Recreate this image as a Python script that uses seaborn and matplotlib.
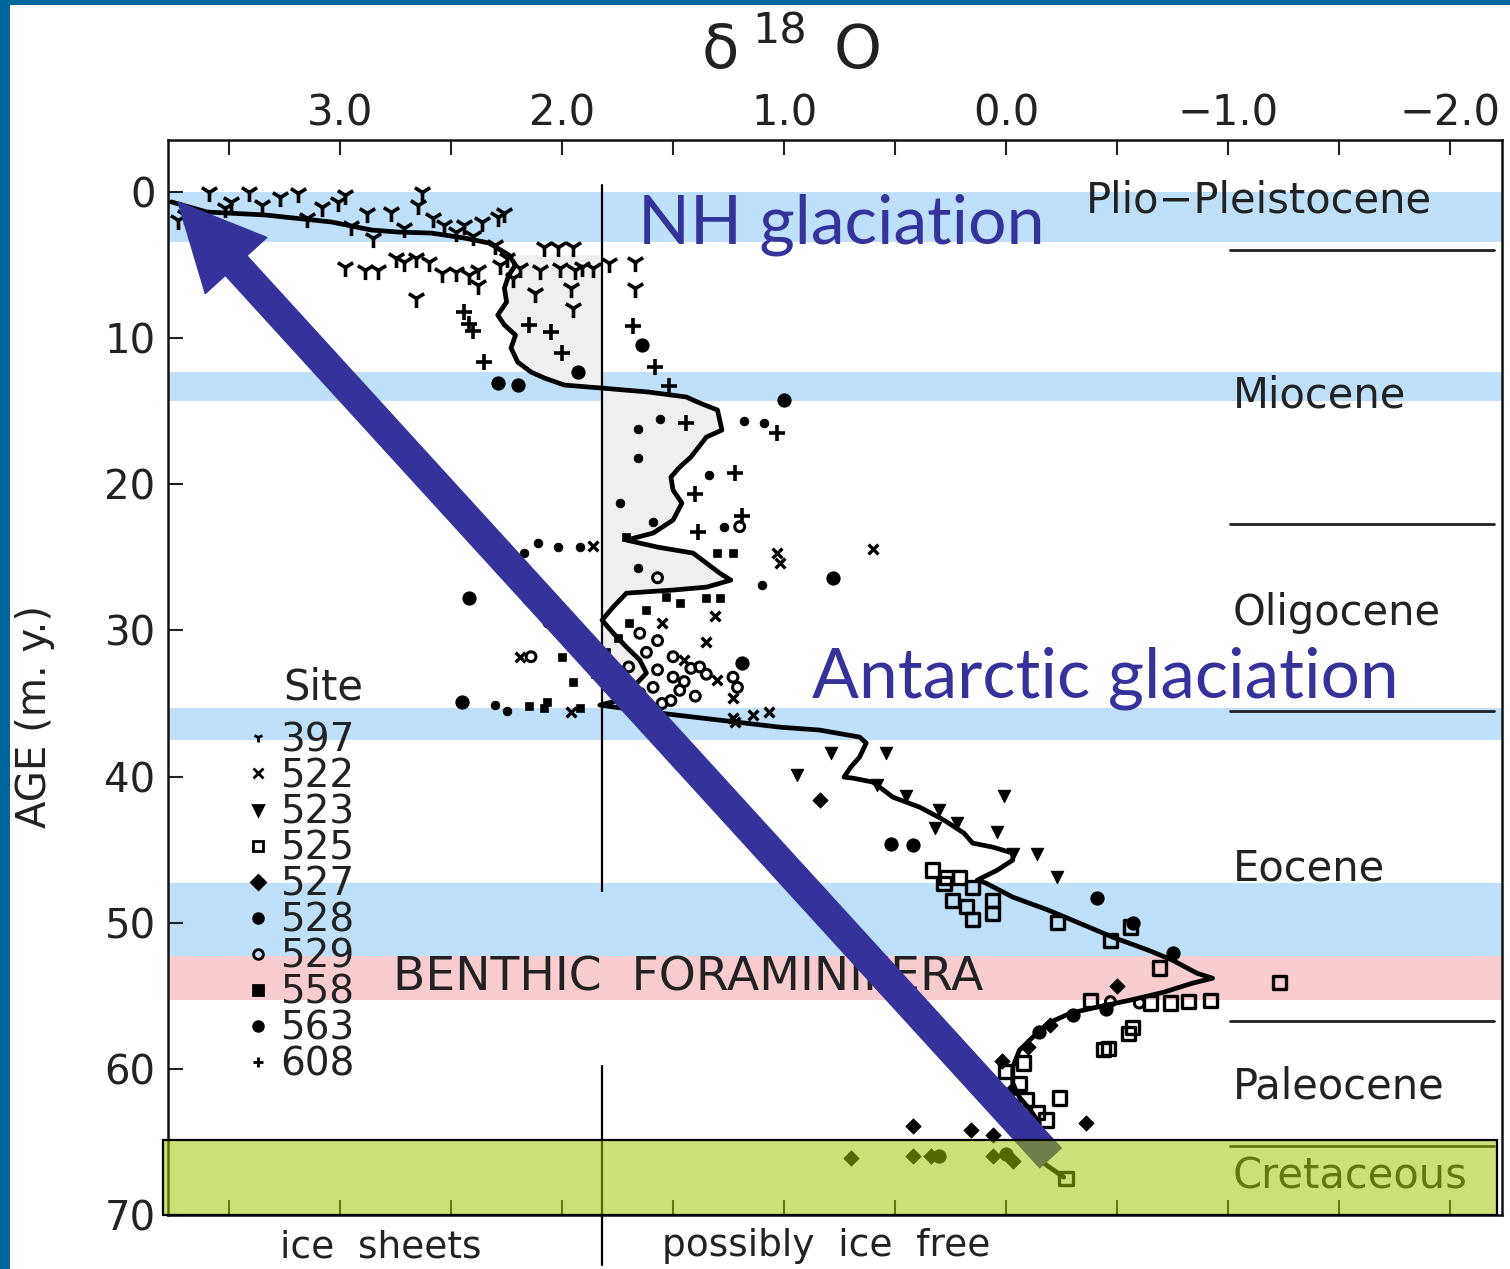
import numpy as np
import pandas as pd
import matplotlib
matplotlib.use('Agg')
import matplotlib.pyplot as plt
from matplotlib.patches import Rectangle
from matplotlib.lines import Line2D
import seaborn as sns

# smoothed benthic d18O curve (per mil) against age (m.y.)
curve_d18o = [3.76, 3.60, 3.34, 3.04, 2.86, 2.74, 2.59, 2.44, 2.33, 2.24, 2.21, 2.24, 2.26, 2.25,
              2.29, 2.26, 2.21, 2.23, 2.20, 2.14, 2.08, 1.99, 1.82, 1.61, 1.44, 1.38, 1.30, 1.28,
              1.35, 1.42, 1.47, 1.51, 1.50, 1.46, 1.50, 1.59, 1.71, 1.57, 1.41, 1.29, 1.24, 1.35,
              1.50, 1.71, 1.77, 1.82, 1.77, 1.71, 1.65, 1.62, 1.68, 1.74, 1.83, 1.60, 1.02, 0.84,
              0.66, 0.63, 0.66, 0.70, 0.73, 0.69, 0.60, 0.51, 0.39, 0.28, 0.19, 0.15, 0.06, -0.03,
              -0.03, 0.04, 0.13, 0.09, -0.03, -0.19, -0.33, -0.48, -0.64, -0.75, -0.86, -0.93,
              -0.84, -0.71, -0.56, -0.41, -0.29, -0.19, -0.12, -0.06, -0.03, -0.03, -0.06, -0.11,
              -0.15, -0.14, -0.11, -0.17, -0.26]
curve_age = [0.68, 1.37, 1.57, 2.05, 2.60, 2.74, 2.81, 3.15, 3.49, 4.31, 5.00, 5.68, 6.57, 7.53,
             8.42, 9.10, 9.79, 10.68, 11.64, 12.32, 12.73, 13.21, 13.42, 13.69, 14.03, 14.44, 14.92,
             16.29, 16.77, 18.14, 18.82, 19.51, 20.40, 21.29, 22.45, 23.34, 23.82, 24.30, 24.71,
             26.08, 26.56, 27.04, 27.24, 27.45, 28.40, 29.30, 30.18, 31.14, 32.03, 32.92, 33.88,
             34.77, 35.11, 35.59, 36.62, 36.82, 37.30, 37.71, 38.67, 39.36, 40.04, 40.11, 40.38,
             41.41, 42.09, 42.98, 43.87, 44.56, 44.83, 45.24, 45.72, 46.41, 47.09, 47.30, 48.25,
             49.14, 50.03, 50.99, 51.88, 52.57, 53.46, 53.80, 54.14, 54.76, 55.30, 55.78, 56.19,
             56.88, 57.84, 58.73, 59.89, 60.99, 61.94, 62.83, 63.72, 64.68, 65.57, 66.46, 67.42]

# site measurements (d18O, age)
site_397 = [(3.59, 0.0), (3.41, 0.0), (3.27, 0.34), (3.19, 0.07), (3.35, 0.89), (3.08, 1.03),
            (2.98, 0.2), (3.01, 0.68), (2.88, 1.44), (2.85, 3.15), (2.77, 1.37), (2.71, 2.46),
            (2.63, 0.0), (2.65, 0.89), (2.58, 1.78), (2.53, 2.26), (2.48, 2.74), (2.44, 2.26),
            (2.36, 2.05), (2.29, 1.71), (2.26, 1.44), (2.08, 3.76), (2.02, 3.76), (1.95, 3.76),
            (2.98, 5.13), (2.89, 5.34), (2.83, 5.34), (2.75, 4.52), (2.71, 4.79), (2.66, 4.52),
            (2.60, 4.79), (2.54, 5.54), (2.48, 5.48), (2.42, 5.68), (2.38, 5.34), (2.38, 6.37),
            (2.66, 7.26), (2.12, 6.91), (1.96, 6.57), (1.95, 7.94), (1.86, 5.2), (1.91, 5.13),
            (1.67, 4.79), (1.67, 6.57), (1.79, 4.86), (3.49, 0.68), (3.52, 1.1), (3.70, 1.57),
            (3.73, 1.92), (2.19, 5.2), (2.10, 5.34), (2.01, 5.2), (1.94, 5.34), (3.15, 1.8),
            (2.95, 2.3), (2.40, 3.0), (2.25, 4.5), (2.30, 3.6), (2.22, 5.9), (2.28, 5.0)]
site_522 = [(1.30, 33.4), (1.23, 34.6), (1.31, 29.0), (1.03, 24.7), (1.02, 25.4), (1.23, 36.0),
            (1.14, 35.8), (1.07, 35.6), (1.96, 35.6), (1.86, 24.2), (0.60, 24.4), (1.22, 36.3),
            (2.19, 31.8), (1.45, 32.0), (1.55, 29.5), (1.35, 30.8)]
site_523 = [(0.79, 38.4), (0.54, 38.4), (0.01, 41.3), (0.04, 43.8), (0.30, 42.3), (0.32, 43.5),
            (-0.14, 45.3), (-0.03, 45.3), (-0.23, 46.9), (0.45, 41.3), (0.94, 39.9), (0.58, 40.6),
            (0.22, 43.2)]
site_525 = [(0.33, 46.4), (0.27, 46.9), (0.28, 47.3), (0.21, 46.9), (0.15, 47.6), (0.18, 48.9),
            (0.15, 49.8), (0.06, 49.4), (0.24, 48.5), (0.06, 48.5), (-0.23, 50.0), (-0.47, 51.2),
            (-0.56, 50.3), (-0.69, 53.1), (-1.23, 54.1), (-0.92, 55.3), (-0.82, 55.4),
            (-0.74, 55.5), (-0.65, 55.5), (-0.57, 57.2), (-0.55, 57.6), (-0.46, 58.6),
            (-0.44, 58.7), (-0.24, 62.0), (-0.08, 59.6), (0.0, 60.2), (-0.06, 61.0),
            (-0.09, 62.1), (-0.14, 63.0), (-0.18, 63.5), (-0.38, 55.3), (-0.27, 67.5)]
site_527 = [(0.84, 41.6), (0.42, 63.9), (0.16, 64.2), (0.06, 64.5), (0.70, 66.1), (0.42, 66.0),
            (0.34, 66.0), (0.06, 66.0), (-0.03, 66.3), (-0.50, 54.3), (-0.36, 63.7),
            (-0.20, 57.0), (-0.10, 58.5), (0.02, 59.5), (-0.02, 61.5)]
site_528 = [(1.0, 14.2), (0.78, 26.4), (2.42, 27.8), (2.45, 34.9), (0.52, 44.6), (0.42, 44.7),
            (1.64, 10.5), (2.29, 13.1), (1.93, 12.3), (2.20, 13.2), (1.19, 32.2), (-0.41, 48.3),
            (-0.57, 50.0), (-0.75, 52.1), (0.30, 66.0), (0.0, 65.8), (-0.30, 56.3),
            (-0.45, 55.9), (-0.15, 57.5)]
site_529 = [(1.65, 30.2), (1.57, 30.7), (1.50, 31.8), (1.42, 32.6), (1.38, 32.5), (1.57, 32.7),
            (1.50, 33.2), (1.59, 33.9), (1.47, 34.1), (1.51, 34.8), (1.65, 34.3), (1.23, 33.2),
            (1.21, 33.9), (1.57, 26.4), (1.20, 22.9), (2.14, 31.8), (-0.47, 55.4), (-0.60, 55.5),
            (1.62, 31.5), (1.45, 33.5), (1.40, 34.5), (1.55, 35.0), (1.35, 33.0), (1.70, 32.5)]
site_558 = [(1.62, 28.6), (1.53, 27.7), (1.47, 28.1), (1.71, 23.6), (1.30, 24.7), (1.23, 24.7),
            (1.35, 27.8), (1.29, 27.8), (2.0, 31.8), (2.07, 34.9), (2.15, 35.2), (1.75, 30.5),
            (1.80, 31.5), (1.85, 33.0), (1.95, 33.5), (1.70, 29.5), (2.08, 35.3), (1.92, 35.3)]
site_563 = [(1.56, 15.5), (1.66, 16.2), (1.66, 18.2), (1.74, 21.3), (1.59, 22.6), (1.66, 25.7),
            (1.10, 26.9), (2.16, 27.9), (2.07, 29.5), (1.34, 19.4), (1.18, 15.7), (1.09, 15.8),
            (1.27, 22.9), (2.11, 24.0), (2.02, 24.3), (1.92, 24.3), (2.17, 24.7), (2.30, 35.1),
            (2.25, 35.5)]
site_608 = [(2.44, 8.2), (2.05, 9.6), (2.0, 11.0), (1.68, 9.2), (1.58, 12.0), (2.35, 11.6),
            (2.15, 9.1), (1.52, 13.3), (1.03, 16.5), (1.22, 19.2), (1.40, 20.7), (1.19, 22.2),
            (1.39, 23.3), (1.44, 15.8), (2.42, 9.0), (2.40, 9.5)]

sites = ['397', '522', '523', '525', '527', '528', '529', '558', '563', '608']
site_data = [site_397, site_522, site_523, site_525, site_527, site_528, site_529, site_558,
             site_563, site_608]

# epochs: label, label age, boundary ages
epoch_names = ['Plio\u2212Pleistocene', 'Miocene', 'Oligocene', 'Eocene', 'Paleocene', 'Cretaceous']
epoch_label_age = [0.55, 13.96, 28.8, 46.3, 61.2, 67.35]
epoch_bounds = [4.0, 22.7, 35.5, 56.7, 65.3]
blue_bands = [(0.0, 3.4), (12.3, 14.3), (35.3, 37.5), (47.3, 52.3)]
pink_band = (52.3, 55.3)
green_band = (64.9, 70.0)
ice_limit = 1.82

ink = '#35339b'
txt = '#222222'
sns.set_theme(style='white')
plt.rcParams['font.family'] = ['DejaVu Sans']

fig = plt.figure(figsize=(15.1, 12.69), dpi=100)
ax = fig.add_axes([0.1113, 0.0426, 0.8834, 0.8471])

for lo, hi in blue_bands:
    ax.axhspan(lo, hi, color='#bfe0fb', lw=0, zorder=0.2)
ax.axhspan(*pink_band, color='#f9cdd0', lw=0, zorder=0.2)

cd = np.array(curve_d18o)
ca = np.array(curve_age)
m = (ca > 4.3) & (ca < 35.2)
ax.fill_betweenx(ca[m], cd[m], ice_limit, color='#efefef', lw=0, zorder=0.5)

ax.plot([ice_limit, ice_limit], [-0.5, 47.8], color='black', lw=1.6, zorder=2)
ax.plot([ice_limit, ice_limit], [59.8, 73.4], color='black', lw=1.6, zorder=2, clip_on=False)

sns.lineplot(x=cd, y=ca, sort=False, estimator=None, color='black', lw=3.4, ax=ax, zorder=3)

styles = {
    '397': dict(marker='1', s=190, color='black', linewidth=2.6),
    '522': dict(marker='x', s=50, color='black', linewidth=2.4),
    '523': dict(marker='v', s=80, color='black', edgecolor='black'),
    '525': dict(marker='s', s=90, facecolor='none', edgecolor='black', linewidth=2.4),
    '527': dict(marker='D', s=60, color='black', edgecolor='black'),
    '528': dict(marker='o', s=90, color='black', edgecolor='black'),
    '529': dict(marker='o', s=50, facecolor='none', edgecolor='black', linewidth=2.2),
    '558': dict(marker='s', s=35, color='black', edgecolor='black'),
    '563': dict(marker='o', s=40, color='black', edgecolor='black'),
    '608': dict(marker='+', s=130, color='black', linewidth=2.6),
}
for name, pts in zip(sites, site_data):
    df = pd.DataFrame(pts, columns=['d18o', 'age'])
    sns.scatterplot(data=df, x='d18o', y='age', ax=ax, zorder=3, legend=False, **styles[name])

ax.set_xlim(3.775, -2.234)
ax.set_ylim(70, -3.56)

# epoch labels and boundaries
for name, age in zip(epoch_names, epoch_label_age):
    ax.text(-0.36 if name.startswith('Plio') else -1.02, age, name, fontsize=30,
            ha='left', va='center', color=txt, zorder=4)
for b in epoch_bounds:
    ax.plot([-1.01, -2.20], [b, b], color=txt, lw=2, zorder=4)
ax.text(2.76, 53.8, 'BENTHIC  FORAMINIFERA', fontsize=34, ha='left', va='center',
        color=txt, zorder=4)

ax.text(1.66, 3.5, 'NH glaciation', fontsize=49, family=['Lato', 'DejaVu Sans'],
        color=ink, ha='left', va='baseline', zorder=4)
ax.text(0.874, 34.6, 'Antarctic glaciation', fontsize=50, family=['Lato', 'DejaVu Sans'],
        color=ink, ha='left', va='baseline', zorder=4)

ax.annotate('', xy=(3.73, 0.68), xytext=(-0.20, 66.1),
            arrowprops=dict(arrowstyle='simple,head_length=62,head_width=60,tail_width=21',
                            mutation_scale=1, color=ink, shrinkA=0, shrinkB=0), zorder=5)

# green Cretaceous box drawn over everything
ax.add_patch(Rectangle((-2.212, green_band[0]), 6.009, green_band[1] - green_band[0],
                       facecolor=(160 / 255, 198 / 255, 0), alpha=0.53, lw=0,
                       zorder=6, clip_on=False))
ax.add_patch(Rectangle((-2.212, green_band[0]), 6.009, green_band[1] - green_band[0],
                       facecolor='none', edgecolor='black', lw=1.6, zorder=7, clip_on=False))

# axes, ticks
ax.xaxis.tick_top()
ax.set_xticks([3.0, 2.0, 1.0, 0.0, -1.0, -2.0])
ax.set_xticklabels(['3.0', '2.0', '1.0', '0.0', '\u22121.0', '\u22122.0'])
ax.set_xticks([3.5, 2.5, 1.5, 0.5, -0.5, -1.5], minor=True)
ax.set_yticks(range(0, 71, 10))
ax.tick_params(axis='x', which='both', direction='in', length=11, width=1.5,
               top=True, bottom=True, labelsize=30, pad=4, colors=txt)
ax.tick_params(axis='y', which='both', direction='in', length=11, width=1.5,
               left=True, labelsize=29, pad=9, colors=txt)
for sp in ax.spines.values():
    sp.set_linewidth(1.8)
    sp.set_color('#111111')
ax.set_xlabel('')
ax.set_ylabel('')

# delta-18-O heading
fig.text(720 / 1510, 1 - 68 / 1269, '\u03b4', fontsize=44, ha='center', va='baseline', color=txt)
fig.text(752 / 1510, 1 - 44 / 1269, '18', fontsize=31, ha='left', va='baseline', color=txt)
fig.text(834 / 1510, 1 - 68 / 1269, 'O', fontsize=44, ha='left', va='baseline', color=txt)

fig.text(35 / 1510, 1 - 717 / 1269, 'AGE (m. y.)', fontsize=29, rotation=90,
         ha='center', va='center', color=txt)
fig.text(280 / 1510, 1 - 1258 / 1269, 'ice  sheets', fontsize=27, ha='left',
         va='baseline', color=txt)
fig.text(662 / 1510, 1 - 1256 / 1269, 'possibly  ice  free', fontsize=27, ha='left',
         va='baseline', color=txt)
fig.text(283 / 1510, 1 - 688 / 1269, 'Site', fontsize=30, ha='left', va='center', color=txt)

# legend of sites
handles = []
for name in sites:
    st = styles[name]
    fc = st.get('facecolor', 'black')
    handles.append(Line2D([], [], ls='none', marker=st['marker'], markersize=7,
                          markerfacecolor=fc, markeredgecolor='black', markeredgewidth=2,
                          label=name))
fig.legend(handles=handles, loc='upper left', bbox_to_anchor=(246 / 1510, 1 - 721 / 1269),
           frameon=False, fontsize=28, handlelength=0.6, handletextpad=0.27,
           labelspacing=-0.05, borderpad=0, borderaxespad=0, labelcolor=txt)

# slide border
fig.add_artist(Rectangle((0, 0), 10 / 1510, 1, transform=fig.transFigure,
                         color='#00669e', lw=0, zorder=10))
fig.add_artist(Rectangle((0, 1 - 5 / 1269), 1, 5 / 1269, transform=fig.transFigure,
                         color='#00669e', lw=0, zorder=10))

fig.savefig('out.png', dpi=100)
